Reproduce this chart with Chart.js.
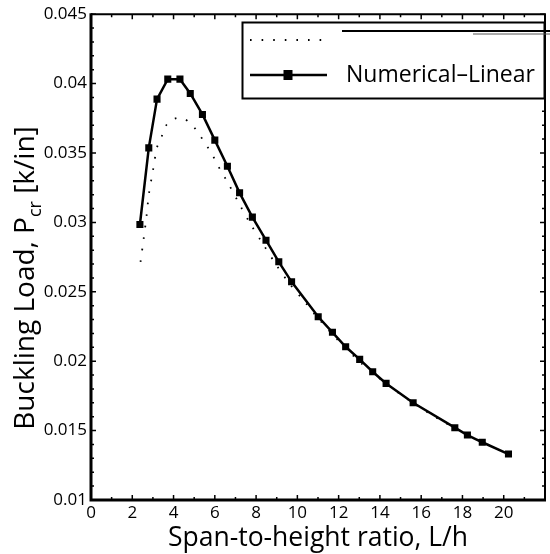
<!DOCTYPE html>
<html>
<head>
<meta charset="utf-8">
<script src="https://cdn.jsdelivr.net/npm/chart.js@4.4.1/dist/chart.umd.min.js"></script>
<style>
  html, body { margin: 0; padding: 0; background: #fff; }
  #wrap { width: 550px; height: 554px; position: relative; }
</style>
</head>
<body>
<div id="wrap"><canvas id="c" width="550" height="554"></canvas></div>
<script>
// ---- data ----
const xNumerical = [2.37, 2.80, 3.20, 3.72, 4.31, 4.81, 5.40, 6.00, 6.61, 7.20, 7.82, 8.48, 9.10, 9.72, 11.01, 11.70, 12.34, 13.02, 13.65, 14.30, 15.61, 17.63, 18.24, 18.96, 20.23];
const yNumerical = [0.02985, 0.03537, 0.03888, 0.04032, 0.04032, 0.03929, 0.03778, 0.03593, 0.03405, 0.03213, 0.03038, 0.02872, 0.02716, 0.02572, 0.02320, 0.02208, 0.02104, 0.02013, 0.01924, 0.01840, 0.01701, 0.01521, 0.01468, 0.01416, 0.01331];
const xDotted = [2.40, 2.55, 2.69, 2.81, 3.00, 3.09, 3.18, 3.41, 3.61, 4.00, 4.44, 4.89, 5.24, 5.53, 5.85, 6.11, 6.39, 6.67, 7.19, 7.71, 8.30, 8.91, 9.55, 10.4, 11.0, 12.3, 13.6, 15.6, 17.6, 20.2];
const yDotted = [0.02716, 0.02880, 0.03045, 0.03209, 0.03371, 0.03454, 0.03533, 0.03612, 0.03693, 0.03744, 0.03751, 0.03703, 0.03636, 0.03569, 0.03497, 0.03420, 0.03348, 0.03276, 0.03132, 0.02993, 0.02853, 0.02709, 0.02572, 0.0242, 0.0231, 0.0210, 0.0192, 0.0170, 0.0152, 0.0133];
const xTickValues = [0, 2, 4, 6, 8, 10, 12, 14, 16, 18, 20];
const yTickValues = [0.01, 0.015, 0.02, 0.025, 0.03, 0.035, 0.04, 0.045];
const xTitle = 'Span-to-height ratio, L/h';
const yTitleMain = 'Buckling Load, P';
const yTitleSub = 'cr';
const yTitleEnd = ' [k/in]';
const legendLabels = ['', 'Numerical\u2013Linear'];

const FONT = '"Open Sans", "Liberation Sans", sans-serif';
const DOT_DASH = [1.6, 10];

const toPts = (xs, ys) => xs.map((x, i) => ({ x: x, y: ys[i] }));

const framePlugin = {
  id: 'frame',
  afterDraw(chart) {
    const ctx = chart.ctx;
    const a = chart.chartArea;
    const xs = chart.scales.x, ys = chart.scales.y;
    ctx.save();
    ctx.strokeStyle = '#000';
    // minor/major ticks (inside, all four sides)
    ctx.lineWidth = 1.5;
    for (let i = 0; i <= 22; i++) {
      const px = xs.getPixelForValue(i);
      const len = (i % 2 === 0) ? 5 : 3;
      ctx.beginPath();
      ctx.moveTo(px, a.bottom); ctx.lineTo(px, a.bottom - len);
      ctx.moveTo(px, a.top); ctx.lineTo(px, a.top + len);
      ctx.stroke();
    }
    for (let i = 10; i <= 45; i++) {
      const py = ys.getPixelForValue(i / 1000);
      const len = (i % 5 === 0) ? 5 : 3;
      ctx.beginPath();
      ctx.moveTo(a.left, py); ctx.lineTo(a.left + len, py);
      ctx.moveTo(a.right, py); ctx.lineTo(a.right - len, py);
      ctx.stroke();
    }
    // axes box
    ctx.lineWidth = 3;
    ctx.beginPath();
    ctx.moveTo(a.left, a.top - 1); ctx.lineTo(a.left, a.bottom);
    ctx.lineTo(a.right + 1, a.bottom);
    ctx.stroke();
    ctx.lineWidth = 2;
    ctx.beginPath();
    ctx.moveTo(a.left, a.top); ctx.lineTo(a.right, a.top); ctx.lineTo(a.right, a.bottom);
    ctx.stroke();

    // legend
    const lx = 242.5, ly = 22.5, lw = 302, lh = 76;
    ctx.fillStyle = '#fff';
    ctx.fillRect(lx, ly, lw, lh);
    ctx.lineWidth = 2;
    ctx.strokeRect(lx, ly, lw, lh);
    // entry 1: dotted
    ctx.lineWidth = 1.8;
    ctx.setLineDash(DOT_DASH);
    ctx.beginPath(); ctx.moveTo(250, 40); ctx.lineTo(322, 40); ctx.stroke();
    ctx.setLineDash([]);
    // stray strike lines near the first label
    ctx.lineWidth = 2;
    ctx.beginPath(); ctx.moveTo(342, 31); ctx.lineTo(550, 31); ctx.stroke();
    ctx.lineWidth = 1;
    ctx.strokeStyle = '#555';
    ctx.beginPath(); ctx.moveTo(473, 34); ctx.lineTo(550, 34); ctx.stroke();
    ctx.strokeStyle = '#000';
    // entry 2: solid + square
    ctx.lineWidth = 2.5;
    ctx.beginPath(); ctx.moveTo(250, 75); ctx.lineTo(327, 75); ctx.stroke();
    ctx.fillStyle = '#000';
    ctx.fillRect(288 - 4.5, 75 - 5, 9, 10);
    ctx.font = '23px ' + FONT;
    ctx.textAlign = 'left';
    ctx.textBaseline = 'middle';
    ctx.fillText(legendLabels[1], 346, 75);
    if (legendLabels[0]) ctx.fillText(legendLabels[0], 346, 40);

    // x title
    ctx.font = '26.5px ' + FONT;
    ctx.textAlign = 'center';
    ctx.textBaseline = 'alphabetic';
    ctx.fillText(xTitle, (a.left + a.right) / 2, 546);

    // y title (rotated, with subscript)
    const big = '28px ' + FONT, small = '18px ' + FONT;
    ctx.font = big; const w1 = ctx.measureText(yTitleMain).width;
    const w3 = ctx.measureText(yTitleEnd).width;
    ctx.font = small; const w2 = ctx.measureText(yTitleSub).width;
    const total = w1 + w2 + w3;
    ctx.translate(34, 278);
    ctx.rotate(-Math.PI / 2);
    ctx.textAlign = 'left';
    let cx = -total / 2;
    ctx.font = big; ctx.fillText(yTitleMain, cx, 0); cx += w1;
    ctx.font = small; ctx.fillText(yTitleSub, cx, 7); cx += w2;
    ctx.font = big; ctx.fillText(yTitleEnd, cx, 0);
    ctx.restore();
  }
};

new Chart(document.getElementById('c'), {
  type: 'scatter',
  data: {
    datasets: [
      {
        label: legendLabels[0],
        data: toPts(xDotted, yDotted),
        showLine: true,
        borderColor: '#000',
        borderWidth: 1.8,
        borderDash: DOT_DASH,
        pointRadius: 0,
        tension: 0.3,
        fill: false
      },
      {
        label: legendLabels[1],
        data: toPts(xNumerical, yNumerical),
        showLine: true,
        borderColor: '#000',
        backgroundColor: '#000',
        borderWidth: 2.5,
        pointStyle: 'rect',
        pointRadius: 5,
        pointBorderWidth: 0,
        tension: 0,
        fill: false
      }
    ]
  },
  options: {
    responsive: false,
    animation: false,
    devicePixelRatio: 1,
    layout: { padding: { top: 14, right: 2, left: 0, bottom: 0 } },
    plugins: { legend: { display: false }, tooltip: { enabled: false } },
    scales: {
      x: {
        type: 'linear', min: 0, max: 22,
        grid: { display: false, drawTicks: false },
        border: { display: false },
        afterBuildTicks: s => { s.ticks = xTickValues.map(v => ({ value: v })); },
        afterFit: s => { s.height = 54; },
        ticks: {
          color: '#000', padding: 3, maxRotation: 0,
          font: { family: FONT, size: 17 },
          callback: v => String(v)
        }
      },
      y: {
        type: 'linear', min: 0.01, max: 0.045,
        grid: { display: false, drawTicks: false },
        border: { display: false },
        afterBuildTicks: s => { s.ticks = yTickValues.map(v => ({ value: v })); },
        afterFit: s => { s.width = 91; },
        ticks: {
          color: '#000', padding: 4,
          font: { family: FONT, size: 17 },
          callback: v => String(+v.toFixed(3))
        }
      }
    }
  },
  plugins: [framePlugin]
});
</script>
</body>
</html>
